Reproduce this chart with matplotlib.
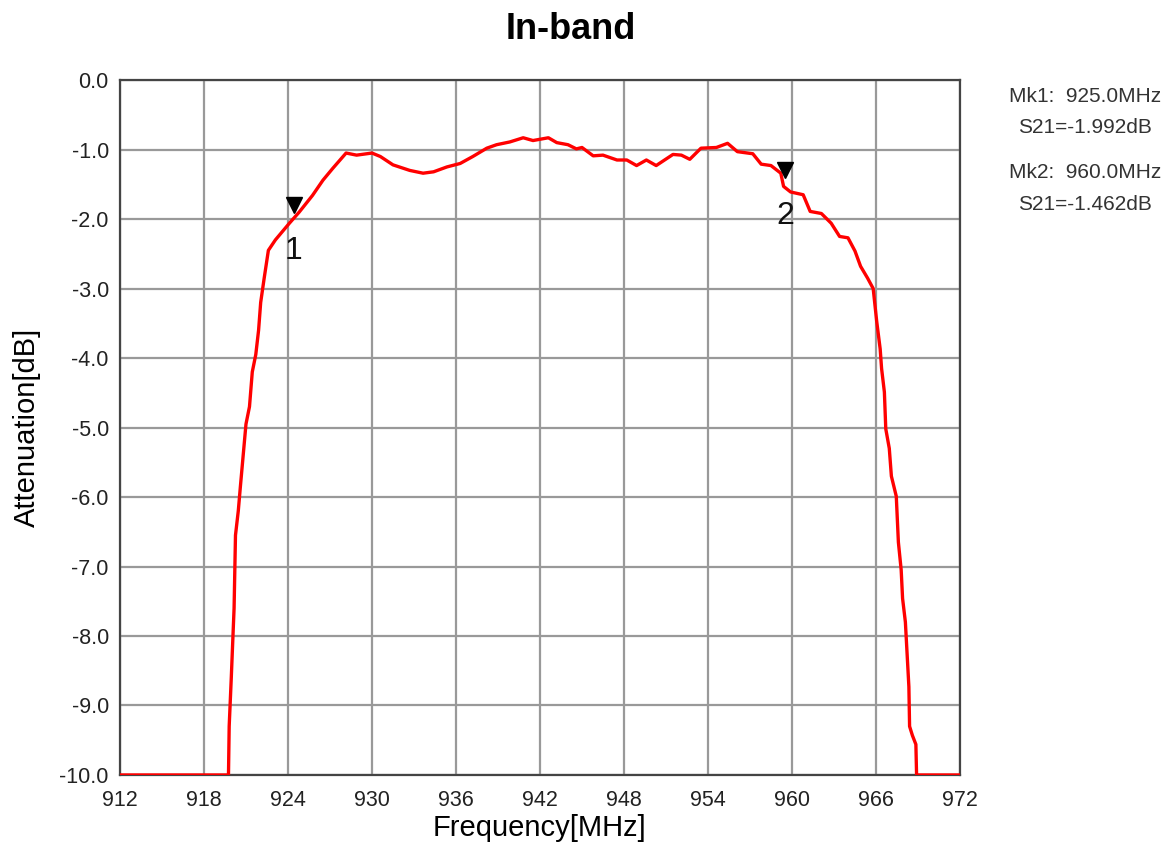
import matplotlib
matplotlib.use('Agg')
import matplotlib.pyplot as plt

plt.rcParams['font.family'] = ['Liberation Sans', 'DejaVu Sans']

# trace (MHz, dB)
freq = [912.0, 919.75, 919.8, 919.95, 920.05, 920.15, 920.25, 920.45, 920.6, 920.8,
        921.0, 921.25, 921.45, 921.7, 921.9, 922.05, 922.3, 922.6, 923.1, 924.1,
        924.8, 925.75, 926.5, 927.2, 928.15, 928.9, 930.0, 930.6, 931.5, 932.7,
        933.65, 934.4, 935.35, 936.3, 937.2, 938.2, 938.9, 939.85, 940.8, 941.5,
        942.6, 943.2, 944.0, 944.6, 945.0, 945.8, 946.5, 947.5, 948.2, 948.9,
        949.6, 950.3, 951.5, 952.1, 952.7, 953.5, 954.6, 955.4, 956.1, 957.2,
        957.8, 958.5, 959.2, 959.4, 959.9, 960.8, 961.3, 962.1, 962.8, 963.4,
        964.0, 964.5, 964.9, 965.4, 965.8, 966.05, 966.3, 966.4, 966.6, 966.7,
        966.95, 967.1, 967.45, 967.6, 967.8, 967.9, 968.1, 968.35, 968.4, 968.6,
        968.85, 968.9, 972.0]
atten = [-10.0, -10.0, -9.3, -8.6, -8.1, -7.6, -6.55, -6.2, -5.85, -5.4,
         -4.95, -4.7, -4.2, -3.95, -3.6, -3.2, -2.85, -2.45, -2.3, -2.06,
         -1.9, -1.66, -1.44, -1.27, -1.05, -1.08, -1.05, -1.1, -1.22, -1.3,
         -1.34, -1.32, -1.25, -1.2, -1.1, -0.98, -0.93, -0.89, -0.83, -0.87,
         -0.83, -0.9, -0.93, -0.99, -0.97, -1.09, -1.08, -1.15, -1.15, -1.23,
         -1.15, -1.23, -1.07, -1.08, -1.14, -0.98, -0.97, -0.91, -1.03, -1.06,
         -1.21, -1.23, -1.34, -1.53, -1.61, -1.65, -1.89, -1.92, -2.06, -2.25,
         -2.27, -2.46, -2.68, -2.85, -3.0, -3.47, -3.87, -4.15, -4.49, -5.02,
         -5.3, -5.7, -5.99, -6.65, -7.05, -7.46, -7.8, -8.73, -9.3, -9.43,
         -9.56, -10.0, -10.0]

xticks = [912, 918, 924, 930, 936, 942, 948, 954, 960, 966, 972]
yticks = [0.0, -1.0, -2.0, -3.0, -4.0, -5.0, -6.0, -7.0, -8.0, -9.0, -10.0]

# markers: where the triangles sit on the plot, and the readout text
mk_x = [924.4, 959.5]
mk_y = [-1.8, -1.29]
mk_names = ['1', '2']
mk_lines = ['Mk1:  925.0MHz\nS21=-1.992dB', 'Mk2:  960.0MHz\nS21=-1.462dB']

fig = plt.figure(figsize=(11.74, 8.43), dpi=100)
ax = fig.add_axes([0.1022, 0.0807, 0.7155, 0.8243])

ax.plot(freq, atten, color='#ff0000', lw=2.4, zorder=3)

ax.plot(mk_x, mk_y, linestyle='none', marker='v', color='black', ms=11, zorder=4)
for x, y, name in zip(mk_x, mk_y, mk_names):
    ax.text(x, y - 0.66, name, ha='center', va='center', fontsize=23, color='#111111', zorder=4)

ax.set_xlim(912, 972)
ax.set_ylim(-10, 0)
ax.set_xticks(xticks)
ax.set_yticks(yticks)
ax.set_yticklabels(['%.1f' % v for v in yticks])
ax.tick_params(length=0, labelsize=15.5, colors='#222222')
ax.tick_params(axis='x', pad=11)
ax.tick_params(axis='y', pad=8)
ax.grid(True, color='#999999', lw=1.6)
for s in ax.spines.values():
    s.set_color('#444444')
    s.set_linewidth(1.6)

ax.set_xlabel('Frequency[MHz]', fontsize=21)
ax.xaxis.set_label_coords(0.5, -0.056)
ax.set_ylabel('Attenuation[dB]', fontsize=21)
ax.yaxis.set_label_coords(-0.094, 0.5)
fig.text(0.486, 0.965, 'In-band', ha='center', va='center', fontsize=26, fontweight='bold')

fig.text(0.924, 0.867, mk_lines[0], ha='center', va='center', fontsize=15,
         color='#333333', linespacing=1.85)
fig.text(0.924, 0.776, mk_lines[1], ha='center', va='center', fontsize=15,
         color='#333333', linespacing=1.85)

fig.savefig('out.png', dpi=100)
